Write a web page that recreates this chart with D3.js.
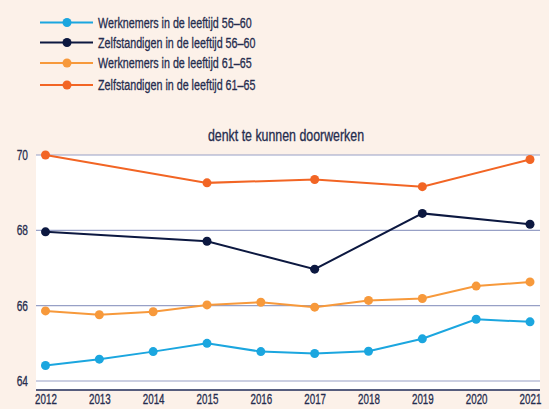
<!DOCTYPE html>
<html>
<head>
<meta charset="utf-8">
<script src="https://cdn.jsdelivr.net/npm/d3@7"></script>
<style>
  html, body { margin: 0; padding: 0; background: #fcf1e9; }
  svg text { font-family: "Liberation Sans", Arial, sans-serif; }
</style>
</head>
<body>
<div id="chart"></div>
<script>
const years = [2012, 2013, 2014, 2015, 2016, 2017, 2018, 2019, 2020, 2021];
const yTicks = [64, 66, 68, 70];

const werknemers5660 = [64.41, 64.58, 64.78, 65.00, 64.78, 64.73, 64.79, 65.12, 65.64, 65.57];
const zelfstandigen5660 = [67.96, null, null, 67.71, null, 66.97, null, 68.45, null, 68.16];
const werknemers6165 = [65.86, 65.76, 65.84, 66.02, 66.09, 65.96, 66.14, 66.19, 66.52, 66.63];
const zelfstandigen6165 = [70.0, null, null, 69.26, null, 69.35, null, 69.16, null, 69.88];

const seriesNames = [
    'Werknemers in de leeftijd 56\u201360',
    'Zelfstandigen in de leeftijd 56\u201360',
    'Werknemers in de leeftijd 61\u201365',
    'Zelfstandigen in de leeftijd 61\u201365'
];
const seriesColors = ['#1ba6df', '#0c1840', '#f7993b', '#f26524'];
const seriesValues = [werknemers5660, zelfstandigen5660, werknemers6165, zelfstandigen6165];

const width = 549, height = 409;
const textColor = '#252c4e';

// the original uses a condensed face: move x/y into a translate and narrow the text
function condense(sel, squeeze) {
    sel.each(function () {
        const t = d3.select(this);
        const tx = +t.attr('x') || 0;
        const ty = +t.attr('y') || 0;
        t.attr('x', 0).attr('y', 0)
            .attr('transform', `translate(${tx},${ty}) scale(${squeeze},1)`)
            .attr('stroke', textColor)
            .attr('stroke-width', 0.3);
    });
}

const svg = d3.select('#chart').append('svg')
    .attr('width', width)
    .attr('height', height)
    .style('display', 'block');

// legend
seriesNames.forEach((name, i) => {
    const y = [22.5, 42.5, 63, 85][i];
    svg.append('line')
        .attr('x1', 40).attr('x2', 93)
        .attr('y1', y).attr('y2', y)
        .attr('stroke', seriesColors[i])
        .attr('stroke-width', 2);
    svg.append('circle')
        .attr('cx', 67).attr('cy', y).attr('r', 4.5)
        .attr('fill', seriesColors[i]);
    svg.append('text')
        .attr('x', 98).attr('y', y)
        .attr('dy', '0.36em')
        .attr('fill', textColor)
        .attr('font-size', '14.5px')
        .text(name)
        .call(condense, 0.74);
});

// title
svg.append('text')
    .attr('x', 286).attr('y', 135)
    .attr('dy', '0.36em')
    .attr('text-anchor', 'middle')
    .attr('fill', textColor)
    .attr('font-size', '16.5px')
    .text('denkt te kunnen doorwerken')
    .call(condense, 0.75);

const plot = { left: 36, right: 540, top: 155, bottom: 390 };

const x = d3.scalePoint()
    .domain(years)
    .range([45.5, 530]);

const y = d3.scaleLinear()
    .domain([64, 70])
    .range([381, 155]);

// plot background
svg.append('rect')
    .attr('x', plot.left).attr('y', plot.top)
    .attr('width', plot.right - plot.left)
    .attr('height', plot.bottom - plot.top)
    .attr('fill', '#ffffff');

// gridlines
yTicks.forEach(t => {
    svg.append('line')
        .attr('x1', plot.left).attr('x2', plot.right)
        .attr('y1', y(t)).attr('y2', y(t))
        .attr('stroke', '#97a0c6')
        .attr('stroke-width', 1.2);
});

// y labels
const yAxis = d3.axisLeft(y).tickValues(yTicks).tickFormat(d3.format('d')).tickSize(0).tickPadding(8);
const gy = svg.append('g')
    .attr('transform', `translate(${plot.left},0)`)
    .call(yAxis);
gy.attr('font-family', null).attr('font-size', null);
gy.select('.domain').remove();
gy.selectAll('text')
    .attr('fill', textColor)
    .attr('font-size', '14.5px')
    .call(condense, 0.7);

// x axis
const xAxis = d3.axisBottom(x).tickSize(0).tickPadding(8);
const gx = svg.append('g')
    .attr('transform', `translate(0,${plot.bottom})`)
    .call(xAxis);
gx.attr('font-family', null).attr('font-size', null);
gx.select('.domain')
    .attr('d', `M${plot.left},0H${plot.right}`)
    .attr('stroke', '#1f2a57')
    .attr('stroke-width', 1.6);
gx.selectAll('text')
    .attr('fill', textColor)
    .attr('font-size', '14px')
    .attr('y', 4)
    .call(condense, 0.7);

// series
const line = d3.line()
    .x(d => x(d.year))
    .y(d => y(d.value));

seriesValues.forEach((vals, i) => {
    const pts = years.map((yr, j) => ({ year: yr, value: vals[j] }))
        .filter(d => d.value !== null);
    svg.append('path')
        .datum(pts)
        .attr('d', line)
        .attr('fill', 'none')
        .attr('stroke', seriesColors[i])
        .attr('stroke-width', 2);
    svg.selectAll(null)
        .data(pts)
        .enter().append('circle')
        .attr('cx', d => x(d.year))
        .attr('cy', d => y(d.value))
        .attr('r', 4.5)
        .attr('fill', seriesColors[i]);
});
</script>
</body>
</html>
